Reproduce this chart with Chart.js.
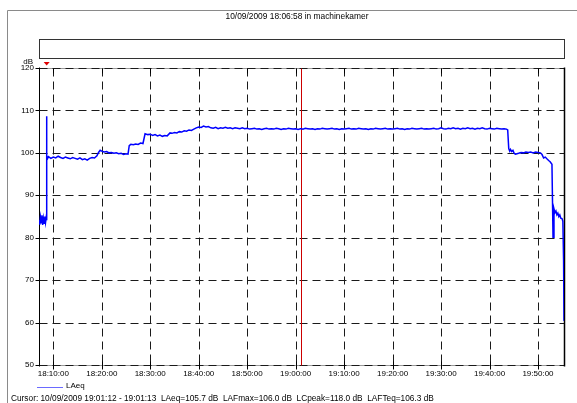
<!DOCTYPE html>
<html>
<head>
<meta charset="utf-8">
<title>LAeq machinekamer</title>
<script src="https://cdn.jsdelivr.net/npm/chart.js@4/dist/chart.umd.min.js"></script>
<style>
  html, body { margin: 0; padding: 0; background: #fff; }
  #wrap { position: relative; width: 577px; height: 403px; overflow: hidden;
          font-family: "Liberation Sans", Arial, sans-serif; color: #000; }
  #c { position: absolute; left: 0; top: 0; }
  .txt { position: absolute; font-size: 8px; line-height: 10px; white-space: pre; }
</style>
</head>
<body>
<div id="wrap">
  <canvas id="c" width="577" height="403"></canvas>
  <div class="txt" id="title" style="left:0; width:594px; text-align:center; top:11px; font-size:8.4px;"></div>
  <div class="txt" id="unit" style="right:544px; top:57px;"></div>
  <div class="txt" id="legendLabel" style="left:66px; top:381px;"></div>
  <div class="txt" id="cursorInfo" style="left:11px; top:393px; font-size:8.3px;"></div>
</div>
<script>
// ---- measurement: LAeq, machinekamer, 10/09/2009 ----
const chartTitle = '10/09/2009 18:06:58 in machinekamer';
const unitLabel = 'dB';
const seriesName = 'LAeq';
const cursorText = 'Cursor: 10/09/2009 19:01:12 - 19:01:13  LAeq=105.7 dB  LAFmax=106.0 dB  LCpeak=118.0 dB  LAFTeq=106.3 dB';

const axisStart = '18:07:03';
const axisEnd = '19:55:22';
const cursorTime = '19:01:12';
const markerTime = '18:08:38';

const xTickLabels = ['18:10:00', '18:20:00', '18:30:00', '18:40:00', '18:50:00', '19:00:00',
                     '19:10:00', '19:20:00', '19:30:00', '19:40:00', '19:50:00'];
const yTickValues = [50, 60, 70, 80, 90, 100, 110, 120];

const times = [
  '18:07:03','18:07:12','18:07:21','18:07:30','18:07:39','18:07:48','18:07:57','18:08:06','18:08:15','18:08:24',
  '18:08:33','18:08:36','18:08:38','18:08:41','18:08:48',
  '18:09:00','18:09:30','18:10:00','18:10:30','18:11:00','18:11:30','18:12:00','18:12:30','18:13:00','18:13:30',
  '18:14:00','18:14:30','18:15:00','18:15:30','18:16:00','18:16:30','18:17:00','18:17:30','18:18:00','18:18:30',
  '18:19:00','18:19:20','18:19:40','18:20:00','18:20:30','18:21:00','18:21:30','18:22:00','18:22:30','18:23:00',
  '18:23:30','18:24:00','18:24:30','18:25:00','18:25:25','18:25:40','18:26:00','18:26:30','18:27:00','18:27:30',
  '18:28:00','18:28:30','18:28:56','18:29:30','18:30:00','18:30:30','18:31:00','18:31:30','18:32:00','18:32:30',
  '18:33:00','18:33:30','18:34:05','18:34:30','18:35:00','18:35:30','18:36:00','18:36:30','18:37:00','18:37:30',
  '18:38:00','18:38:30','18:39:00','18:39:30','18:40:00','18:40:30','18:41:00','18:41:30','18:42:00','18:42:30',
  '18:43:00','18:43:30','18:44:00','18:44:30','18:45:00','18:45:30','18:46:00','18:46:30','18:47:00','18:47:30',
  '18:48:00','18:48:30','18:49:00','18:49:30','18:50:00','18:50:30','18:51:00','18:51:30','18:52:00','18:52:30',
  '18:53:00','18:53:30','18:54:00','18:54:30','18:55:00','18:55:30','18:56:00','18:56:30','18:57:00','18:57:30',
  '18:58:00','18:58:30','18:59:00','18:59:30','19:00:00','19:00:30','19:01:00','19:01:12','19:01:30','19:02:00',
  '19:02:30','19:03:00','19:03:30','19:04:00','19:04:30','19:05:00','19:05:30','19:06:00','19:06:30','19:07:00',
  '19:07:30','19:08:00','19:08:30','19:09:00','19:09:30','19:10:00','19:10:30','19:11:00','19:11:30','19:12:00',
  '19:12:30','19:13:00','19:13:30','19:14:00','19:14:30','19:15:00','19:15:30','19:16:00','19:16:30','19:17:00',
  '19:17:30','19:18:00','19:18:30','19:19:00','19:19:30','19:20:00','19:20:30','19:21:00','19:21:30','19:22:00',
  '19:22:30','19:23:00','19:23:30','19:24:00','19:24:30','19:25:00','19:25:30','19:26:00','19:26:30','19:27:00',
  '19:27:30','19:28:00','19:28:30','19:29:00','19:29:30','19:30:00','19:30:30','19:31:00','19:31:30','19:32:00',
  '19:32:30','19:33:00','19:33:30','19:34:00','19:34:30','19:35:00','19:35:30','19:36:00','19:36:30','19:37:00',
  '19:37:30','19:38:00','19:38:30','19:39:00','19:39:30','19:40:00','19:40:30','19:41:00','19:41:30','19:42:00',
  '19:42:30','19:43:00','19:43:30','19:43:45','19:43:58','19:44:10','19:44:20','19:44:35','19:44:50','19:45:05',
  '19:45:20','19:45:40','19:46:00','19:46:30','19:47:00','19:47:30','19:48:00','19:48:30','19:49:00','19:49:30',
  '19:50:00','19:50:30','19:50:50','19:51:10','19:51:30','19:51:50','19:52:12','19:52:30','19:52:53','19:53:06',
  '19:53:18','19:53:30','19:53:42','19:53:54','19:54:06','19:54:18','19:54:30','19:54:42','19:54:57','19:55:08',
  '19:55:17','19:55:22'
];

const laeq = [
  84.2, 83.1, 84.8, 83.5, 85.3, 83.0, 84.6, 83.4, 85.0, 83.6,
  84.9, 84.1, 108.6, 99.4, 98.6,
  99.1, 98.7, 99.0, 98.8, 99.2, 98.9, 98.7, 99.0, 98.8, 98.6,
  98.9, 98.7, 98.5, 98.8, 98.4, 98.6, 98.3, 98.7, 98.9, 98.8,
  99.3, 100.1, 100.6, 100.4, 100.2, 100.3, 100.0, 100.1, 99.9, 100.0,
  99.8, 99.9, 99.6, 99.8, 99.7, 101.7, 102.0, 101.9, 102.1, 102.0,
  102.3, 102.2, 104.5, 104.3, 104.4, 104.1, 104.3, 104.0, 104.2, 103.9,
  104.1, 104.0, 104.7, 104.6, 104.8, 104.7, 105.0, 104.9, 105.2, 105.1,
  105.4, 105.3, 105.6, 105.9, 106.1, 106.0, 106.3, 106.1, 106.2, 105.9,
  105.8, 106.0, 105.7, 105.9, 105.8, 106.0, 105.8, 105.9, 105.7, 105.9,
  105.8, 105.7, 105.9, 105.7, 105.8, 105.6, 105.7, 105.8, 105.6, 105.7,
  105.5, 105.7, 105.8, 105.6, 105.7, 105.6, 105.8, 105.7, 105.5, 105.7,
  105.6, 105.8, 105.7, 105.6, 105.7, 105.5, 105.7, 105.7, 105.6, 105.8,
  105.7, 105.6, 105.7, 105.5, 105.7, 105.6, 105.8, 105.7, 105.6, 105.7,
  105.8, 105.6, 105.7, 105.5, 105.7, 105.6, 105.7, 105.8, 105.6, 105.7,
  105.6, 105.8, 105.7, 105.6, 105.7, 105.5, 105.7, 105.6, 105.8, 105.7,
  105.6, 105.7, 105.8, 105.6, 105.7, 105.6, 105.7, 105.8, 105.6, 105.7,
  105.5, 105.7, 105.6, 105.8, 105.7, 105.6, 105.7, 105.8, 105.6, 105.7,
  105.6, 105.7, 105.8, 105.6, 105.7, 105.9, 105.7, 105.6, 105.8, 105.7,
  105.9, 105.7, 105.8, 105.6, 105.8, 105.7, 105.9, 105.7, 105.8, 105.6,
  105.8, 105.7, 105.9, 105.7, 105.6, 105.8, 105.7, 105.6, 105.8, 105.7,
  105.6, 105.7, 105.6, 105.4, 101.0, 100.4, 100.8, 100.3, 100.6, 99.9,
  99.7, 99.8, 99.9, 100.1, 100.0, 100.2, 100.1, 100.2, 100.0, 100.2,
  100.1, 100.0, 99.6, 98.8, 99.0, 98.6, 98.2, 97.9, 97.3, 80.1,
  86.8, 85.9, 86.3, 85.4, 85.8, 85.0, 85.4, 84.6, 84.5, 83.9,
  74.6, 60.4
];

// "HH:MM:SS" -> minutes after 18:00
function toMin(s) {
  const p = s.split(':').map(Number);
  return (p[0] - 18) * 60 + p[1] + p[2] / 60;
}

document.getElementById('title').textContent = chartTitle;
document.getElementById('unit').textContent = unitLabel;
document.getElementById('legendLabel').textContent = seriesName;
document.getElementById('cursorInfo').textContent = cursorText;

const tickFont = { family: '"Liberation Sans", Arial, sans-serif', size: 8 };

// frame, legend box, dashed grid, tick marks, cursor and start marker
const decorations = {
  id: 'decorations',
  beforeDatasetsDraw(chart) {
    const ctx = chart.ctx;
    const a = chart.chartArea;
    const xs = chart.scales.x, ys = chart.scales.y;
    const L = Math.round(a.left) + 0.5, R = Math.round(a.right) + 0.5;
    const T = Math.round(a.top) + 0.5, B = Math.round(a.bottom) + 0.5;
    ctx.save();

    // outer frame (top and left)
    ctx.strokeStyle = '#8a8a8a';
    ctx.lineWidth = 1;
    ctx.beginPath();
    ctx.moveTo(577, 10.5); ctx.lineTo(7.5, 10.5); ctx.lineTo(7.5, 403);
    ctx.stroke();

    // empty box above the plot
    ctx.strokeStyle = '#333';
    ctx.strokeRect(L, 39.5, R - L, 19);

    // solid grey top / bottom edges under the dashes
    ctx.strokeStyle = '#9a9a9a';
    ctx.beginPath();
    ctx.moveTo(L, T); ctx.lineTo(R, T);
    ctx.moveTo(L, B); ctx.lineTo(R, B);
    ctx.stroke();

    // dashed grid
    ctx.strokeStyle = '#1a1a1a';
    ctx.setLineDash([8, 5]);
    ctx.beginPath();
    yTickValues.forEach(v => {
      const y = Math.round(ys.getPixelForValue(v)) + 0.5;
      ctx.moveTo(L, y); ctx.lineTo(R, y);
    });
    xTickLabels.forEach(l => {
      const x = Math.round(xs.getPixelForValue(toMin(l))) + 0.5;
      ctx.moveTo(x, T); ctx.lineTo(x, B);
    });
    ctx.stroke();
    ctx.setLineDash([]);

    // tick marks
    ctx.strokeStyle = '#000';
    ctx.beginPath();
    yTickValues.forEach(v => {
      const y = Math.round(ys.getPixelForValue(v)) + 0.5;
      ctx.moveTo(L - 4, y); ctx.lineTo(L, y);
    });
    xTickLabels.forEach(l => {
      const x = Math.round(xs.getPixelForValue(toMin(l))) + 0.5;
      ctx.moveTo(x, B - 4); ctx.lineTo(x, B + 4);
      ctx.moveTo(x, T); ctx.lineTo(x, T + 5);
    });
    ctx.stroke();

    // axis lines
    ctx.beginPath();
    ctx.moveTo(L, T - 1); ctx.lineTo(L, B + 1);
    ctx.stroke();
    ctx.lineWidth = 1.5;
    ctx.beginPath();
    ctx.moveTo(R, T - 1); ctx.lineTo(R, B + 1);
    ctx.stroke();

    // cursor line
    const cx = Math.round(xs.getPixelForValue(toMin(cursorTime))) + 0.5;
    ctx.strokeStyle = '#cc0000';
    ctx.lineWidth = 1;
    ctx.beginPath();
    ctx.moveTo(cx, T); ctx.lineTo(cx, B);
    ctx.stroke();

    // start marker above the plot
    const mx = xs.getPixelForValue(toMin(markerTime));
    ctx.fillStyle = '#e00000';
    ctx.beginPath();
    ctx.moveTo(mx - 3, 62); ctx.lineTo(mx + 3, 62); ctx.lineTo(mx, 65.5);
    ctx.closePath();
    ctx.fill();

    // legend sample line
    ctx.strokeStyle = '#6a6aff';
    ctx.lineWidth = 1;
    ctx.beginPath();
    ctx.moveTo(37, 387.5); ctx.lineTo(63, 387.5);
    ctx.stroke();

    ctx.restore();
  }
};

new Chart(document.getElementById('c'), {
  type: 'line',
  data: {
    datasets: [{
      label: seriesName,
      data: times.map((t, i) => ({ x: toMin(t), y: laeq[i] })),
      borderColor: '#0000ff',
      borderWidth: 1.5,
      pointRadius: 0,
      tension: 0,
      fill: false
    }]
  },
  options: {
    responsive: false,
    animation: false,
    devicePixelRatio: 1,
    layout: { padding: { top: 68, left: 0, right: 13, bottom: 0 } },
    plugins: { legend: { display: false }, tooltip: { enabled: false }, title: { display: false } },
    scales: {
      x: {
        type: 'linear',
        min: toMin(axisStart),
        max: toMin(axisEnd),
        afterBuildTicks: s => { s.ticks = xTickLabels.map(l => ({ value: toMin(l) })); },
        afterFit: s => { s.height = 38; },
        grid: { display: false, drawTicks: false },
        border: { display: false },
        ticks: {
          autoSkip: false, maxRotation: 0, padding: 4, color: '#000', font: tickFont,
          callback: (v, i) => xTickLabels[i]
        }
      },
      y: {
        min: 50,
        max: 120,
        afterBuildTicks: s => { s.ticks = yTickValues.map(v => ({ value: v })); },
        afterFit: s => { s.width = 39; },
        grid: { display: false, drawTicks: false },
        border: { display: false },
        ticks: { padding: 5, color: '#000', font: tickFont }
      }
    }
  },
  plugins: [decorations]
});
</script>
</body>
</html>
